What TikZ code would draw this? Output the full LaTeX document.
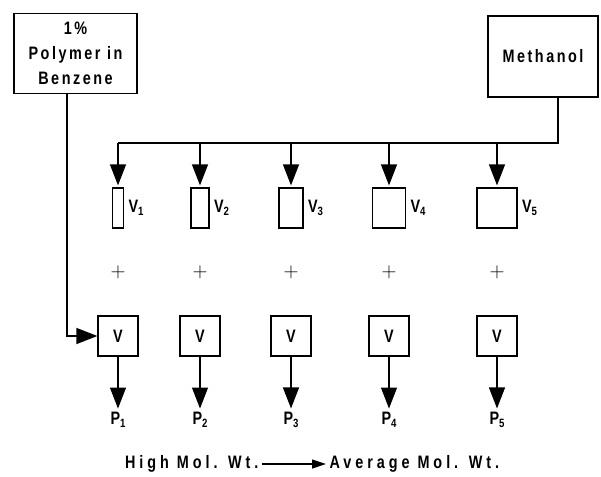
\documentclass[tikz,border=0pt]{standalone}
\usepackage{fontspec}
\setmainfont{Liberation Sans}[FakeStretch=0.8,LetterSpace=14]
\usetikzlibrary{arrows.meta,positioning,calc}
\newcommand{\lowidx}[1]{\raisebox{-3.5pt}{\fontsize{12}{12}\selectfont #1}}

\begin{document}
\begin{tikzpicture}[
    x=1pt, y=-1pt,
    every node/.style={font=\fontsize{18}{25}\selectfont\bfseries},
    feedbox/.style={draw, line width=1.2pt, align=center, inner sep=0pt},
    vial/.style={draw, line width=1.2pt, minimum height=40pt, inner sep=0pt},
    wide/.style={font=\fontsize{18}{25}\selectfont\bfseries\addfontfeatures{LetterSpace=22}},
    arr/.style={line width=1.2pt, -{Triangle[length=21pt,width=16pt]}},
    small arr/.style={line width=1.2pt, -{Triangle[length=14pt,width=9pt]}}
]
\useasboundingbox (0,0) rectangle (601,476);

% feed solutions
\node[feedbox, minimum width=123pt, minimum height=80pt] (polymer) at (75.5,53.5) {1\%\\Polymer in\\Benzene};
\node[feedbox, minimum width=110pt, minimum height=81pt] (methanol) at (543,56.5) {Methanol};

\coordinate (busend) at (558,143);
\coordinate (bus) at (118,143);
\coordinate (feed) at (67,336);

% methanol volumes, polymer volumes, products
\foreach \i/\x/\w in {1/118/11, 2/200/18, 3/291/24, 4/389/33, 5/497/40} {
    \node[vial, minimum width=\w pt] (v\i) at (\x,208) {};
    \node[right=1pt of v\i] (vl\i) {V\lowidx{\i}};
    \node[font=\fontsize{22}{22}\selectfont] (plus\i) at (\x,272) {$+$};
    \node[vial, minimum width=40pt] (w\i) at (\x,336) {V};
    \node (p\i) at (\x,420) {P\lowidx{\i}};
    \draw[arr] (w\i.south) -- (p\i.north);
    \draw[arr, shorten >=2pt] (v\i.north |- bus) -- (v\i.north);
}

\draw[line width=1.2pt] (methanol.south -| busend) -- (busend) -- (bus);
\draw[arr] (polymer.south -| feed) -- (feed) -- (w1.west);

% molecular weight trend
\node[wide, anchor=east] (high) at (262,464) {High Mol. Wt.};
\node[wide, anchor=west] (avg) at (326,464) {Average Mol. Wt.};
\draw[small arr] (high.east) -- (avg.west);
\end{tikzpicture}
\end{document}
